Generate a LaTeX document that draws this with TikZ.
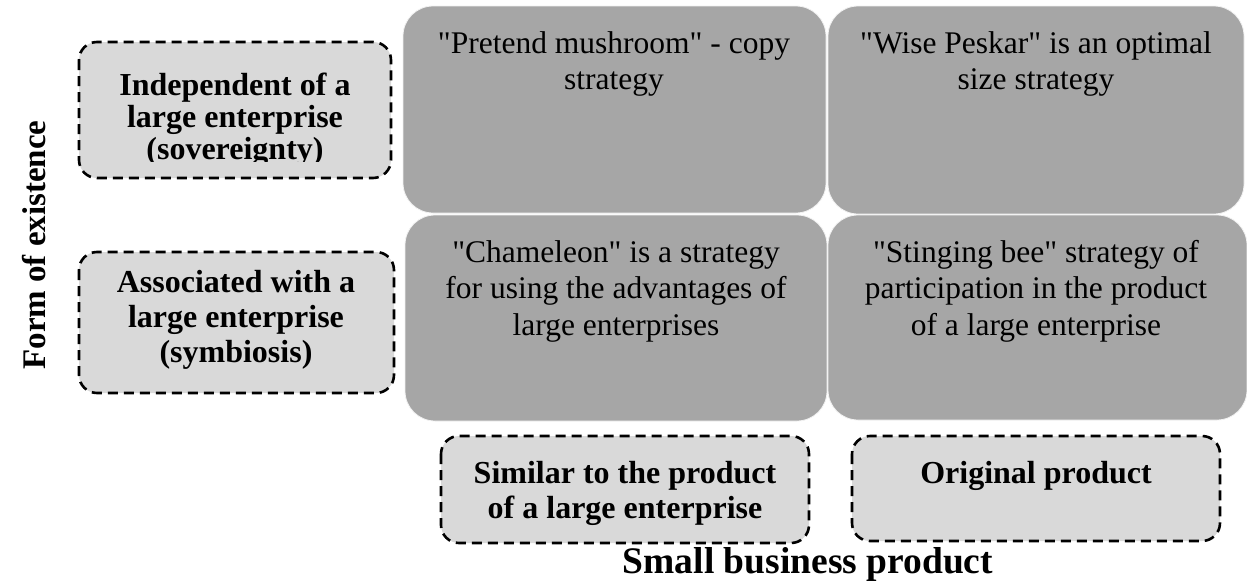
\documentclass[tikz,border=0pt]{standalone}
\usepackage{fontspec}
\setmainfont{Liberation Serif}[Ligatures=TeXOff]
\begin{document}
\begin{tikzpicture}[x=1pt,y=-1pt,
  darkbox/.style={fill=darkfill, draw=white!85!darkfill, line width=0.8pt, rounded corners=30pt},
  lightbox/.style={fill=lightfill, draw=black, line width=2.6pt, dash pattern=on 10pt off 6pt, rounded corners=18pt},
  darktext/.style={align=center, font=\fontsize{31.5}{36.5}\selectfont, inner sep=0pt, anchor=base},
  lighttext/.style={align=center, font=\bfseries\fontsize{32}{35}\selectfont, inner sep=0pt, anchor=base},
]
\definecolor{darkfill}{HTML}{A6A6A6}
\definecolor{lightfill}{HTML}{D9D9D9}
\useasboundingbox (0,0) rectangle (1247,581);
% dark boxes
\path[darkbox] (403,6) rectangle (826,213);
\node[darktext] (pm) at (614,89.5) {"Pretend mushroom" - copy\\strategy};
\path[darkbox] (828,6) rectangle (1244,214);
\node[darktext] (wp) at (1036,89.5) {"Wise Peskar" is an optimal\\size strategy};
\path[darkbox] (405,215) rectangle (827,421);
\node[darktext] (ch) at (616,335) {"Chameleon" is a strategy\\for using the advantages of\\large enterprises};
\path[darkbox] (828,215) rectangle (1247,420);
\node[darktext] (sb) at (1036,335) {"Stinging bee" strategy of\\participation in the product\\of a large enterprise};
% light boxes
\path[lightbox] (79,42) rectangle (391,178);
\begin{scope}
\clip (79,42) rectangle (391,161);
\node[lighttext, font=\bfseries\fontsize{32}{32}\selectfont] (ind) at (235,159) {Independent of a\\large enterprise\\(sovereignty)};
\end{scope}
\path[lightbox] (79,252) rectangle (394,393);
\node[lighttext] (asc) at (236,362) {Associated with a\\large enterprise\\(symbiosis)};
\path[lightbox] (441,436) rectangle (809,543);
\node[lighttext] (sim) at (625,518) {Similar to the product\\of a large enterprise};
\path[lightbox] (852,436) rectangle (1220,541);
\node[lighttext] (orig) at (1036,483) {Original product};
% axis labels
\node[anchor=base, inner sep=0pt, font=\bfseries\fontsize{37.5}{40}\selectfont] (xl) at (808,573) {Small business product};
\node[anchor=base, rotate=90, inner sep=0pt, font=\bfseries\fontsize{33}{36}\selectfont] (yl) at (45,245) {Form of existence};
\end{tikzpicture}
\end{document}
